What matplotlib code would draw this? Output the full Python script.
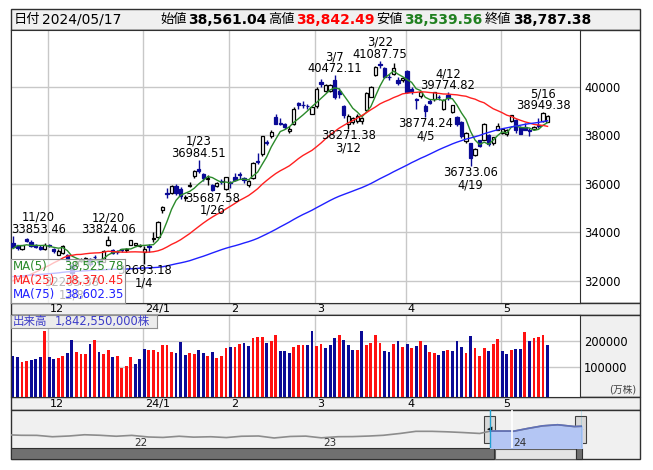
import numpy as np
import pandas as pd
import matplotlib
matplotlib.use('Agg')
import matplotlib.pyplot as plt
from matplotlib.patches import Rectangle

plt.rcParams['font.family'] = ['DejaVu Sans', 'Noto Sans CJK JP']

# ---------------------------------------------------------------
# data : Nikkei 225 daily candles 2023/11/20 - 2024/05/17
# ---------------------------------------------------------------
dates = ['2023-11-20', '2023-11-21', '2023-11-22', '2023-11-24', '2023-11-27', '2023-11-28',
         '2023-11-29', '2023-11-30', '2023-12-01', '2023-12-04', '2023-12-05', '2023-12-06',
         '2023-12-07', '2023-12-08', '2023-12-11', '2023-12-12', '2023-12-13', '2023-12-14',
         '2023-12-15', '2023-12-18', '2023-12-19', '2023-12-20', '2023-12-21', '2023-12-22',
         '2023-12-25', '2023-12-26', '2023-12-27', '2023-12-28', '2023-12-29', '2024-01-04',
         '2024-01-05', '2024-01-09', '2024-01-10', '2024-01-11', '2024-01-12', '2024-01-15',
         '2024-01-16', '2024-01-17', '2024-01-18', '2024-01-19', '2024-01-22', '2024-01-23',
         '2024-01-24', '2024-01-25', '2024-01-26', '2024-01-29', '2024-01-30', '2024-01-31',
         '2024-02-01', '2024-02-02', '2024-02-05', '2024-02-06', '2024-02-07', '2024-02-08',
         '2024-02-09', '2024-02-13', '2024-02-14', '2024-02-15', '2024-02-16', '2024-02-19',
         '2024-02-20', '2024-02-21', '2024-02-22', '2024-02-26', '2024-02-27', '2024-02-28',
         '2024-02-29', '2024-03-01', '2024-03-04', '2024-03-05', '2024-03-06', '2024-03-07',
         '2024-03-08', '2024-03-11', '2024-03-12', '2024-03-13', '2024-03-14', '2024-03-15',
         '2024-03-18', '2024-03-19', '2024-03-21', '2024-03-22', '2024-03-25', '2024-03-26',
         '2024-03-27', '2024-03-28', '2024-03-29', '2024-04-01', '2024-04-02', '2024-04-03',
         '2024-04-04', '2024-04-05', '2024-04-08', '2024-04-09', '2024-04-10', '2024-04-11',
         '2024-04-12', '2024-04-15', '2024-04-16', '2024-04-17', '2024-04-18', '2024-04-19',
         '2024-04-22', '2024-04-23', '2024-04-24', '2024-04-25', '2024-04-26', '2024-04-30',
         '2024-05-01', '2024-05-02', '2024-05-07', '2024-05-08', '2024-05-09', '2024-05-10',
         '2024-05-13', '2024-05-14', '2024-05-15', '2024-05-16', '2024-05-17']

opens = [33560, 33420, 33290, 33720, 33600, 33460, 33380, 33320, 33470, 33310, 33060, 33150,
         33060, 32650, 32600, 32830, 32790, 32900, 32990, 32860, 32780, 33480, 33280, 33200,
         33300, 33260, 33490, 33480, 33420, 33190, 33420, 33710, 33810, 34900, 35610, 35630,
         35900, 35780, 35400, 35910, 36320, 36590, 36400, 36180, 35950, 35900, 36130, 35800,
         36060, 36260, 36390, 36250, 35950, 36250, 36950, 37250, 37730, 37960, 38750, 38500,
         38470, 38170, 38450, 39320, 39260, 39220, 38900, 39200, 40200, 39840, 39830, 40300,
         39820, 39200, 38450, 38560, 38600, 38600, 39050, 39600, 40500, 40950, 40780, 40420,
         40520, 40300, 40300, 40646, 39900, 39500, 39620, 39200, 39400, 39480, 39600, 39100,
         39650, 38950, 38750, 38550, 37750, 37680, 37200, 37800, 37820, 38030, 37700, 38230,
         38080, 38050, 38580, 38650, 38330, 38350, 38200, 38260, 38410, 38590, 38561.04]
highs = [33853.46, 33480, 33480, 33760, 33680, 33520, 33480, 33550, 33520, 33340, 33290, 33480,
         33100, 32700, 32830, 32950, 32990, 32950, 33070, 32900, 33250, 33824.06, 33310, 33250,
         33320, 33340, 33690, 33560, 33500, 33420, 33510, 33990, 34480, 35100, 35840, 35960,
         36000, 35860, 35540, 36090, 36580, 36984.51, 36460, 36350, 36000, 36080, 36200, 36300,
         36120, 36440, 36470, 36300, 36160, 36900, 37290, 37980, 37800, 38200, 38865, 38700,
         38530, 38400, 39156, 39390, 39420, 39300, 39180, 39990, 40310, 40140, 40100, 40472.11,
         39950, 39260, 38880, 38750, 38880, 38760, 39790, 40050, 40850, 41087.75, 40830, 40520,
         40980, 40400, 40420, 40700, 40000, 39560, 39820, 39300, 39480, 39790, 39660, 39480,
         39774.82, 39260, 38800, 38600, 38120, 37700, 37480, 37820, 38500, 38050, 37950, 38500,
         38300, 38280, 38860, 38680, 38370, 38490, 38300, 38400, 38700, 38949.38, 38842.49]
lows = [33340, 33260, 33250, 33580, 33400, 33350, 33250, 33280, 33380, 33150, 33040, 33120,
        32800, 32205.38, 32580, 32750, 32760, 32620, 32880, 32600, 32750, 33440, 33090, 33100,
        33200, 33180, 33470, 33440, 33400, 32693.18, 33200, 33600, 33780, 34800, 35420, 35580,
        35550, 35380, 35300, 35880, 36250, 36450, 36110, 35960, 35687.58, 35880, 35990, 35760,
        35830, 36100, 36200, 36050, 35860, 36200, 36830, 37160, 37600, 37890, 38450, 38420,
        38260, 38100, 38440, 39100, 39130, 39100, 38880, 39120, 40010, 39800, 39790, 39500,
        39550, 38700, 38271.38, 38450, 38500, 38470, 39000, 39580, 40450, 40800, 40350, 40290,
        40480, 40060, 40200, 39760, 39700, 39100, 39550, 38774.24, 39280, 39420, 39450, 39050,
        39450, 38920, 38370, 37900, 37700, 36733.06, 37150, 37500, 37800, 37550, 37600, 38200,
        38050, 37980, 38560, 38100, 38040, 38200, 37960, 38200, 38300, 38550, 38539.56]
closes = [33388.03, 33354.14, 33451.83, 33625.53, 33447.67, 33408.39, 33321.22, 33486.89,
          33431.51, 33231.27, 33231.41, 33445.90, 32858.31, 32307.86, 32791.80, 32843.04,
          32926.35, 32686.25, 32970.55, 32758.98, 33219.39, 33675.94, 33140.47, 33169.05,
          33254.03, 33305.85, 33681.24, 33539.62, 33464.17, 33288.29, 33377.42, 33763.18,
          34441.72, 35049.86, 35577.11, 35901.79, 35619.18, 35477.75, 35466.17, 35963.27,
          36546.95, 36517.57, 36226.48, 36236.47, 35751.07, 36026.94, 36065.86, 36286.71,
          36011.46, 36158.02, 36354.16, 36160.66, 36119.92, 36863.28, 36897.42, 37963.97,
          37703.32, 38157.94, 38487.24, 38470.38, 38363.61, 38262.16, 39098.68, 39233.71,
          39239.52, 39208.03, 39166.19, 39910.82, 40109.23, 40097.63, 40090.78, 39598.71,
          39688.94, 38820.49, 38797.51, 38695.97, 38807.38, 38707.64, 39740.44, 40003.60,
          40815.66, 40888.43, 40414.12, 40398.03, 40762.73, 40168.07, 40369.44, 39803.09,
          39838.91, 39451.85, 39773.13, 38992.08, 39347.04, 39773.14, 39581.81, 39442.63,
          39523.55, 39232.80, 38471.20, 37961.80, 38079.70, 37068.35, 37438.61, 37552.16,
          38460.08, 37628.48, 37934.76, 38405.66, 38274.05, 38236.07, 38835.10, 38202.37,
          38073.98, 38229.11, 38179.46, 38356.06, 38385.73, 38920.26, 38787.38]
# volume (万株)
volume = [142000, 138000, 119000, 123000, 128000, 132000, 138000, 240000, 138000, 132000,
          135000, 141000, 154000, 204000, 158000, 150000, 150000, 188000, 204000, 158000,
          150000, 167000, 138000, 143000, 96000, 104000, 140000, 112000, 131000, 169000,
          167000, 167000, 158000, 185000, 185000, 158000, 154000, 196000, 146000, 154000,
          150000, 164000, 154000, 142000, 158000, 136000, 142000, 173000, 176000, 178000,
          188000, 192000, 181000, 212000, 215000, 215000, 192000, 200000, 223000, 162000,
          162000, 155000, 178000, 185000, 185000, 185000, 240000, 181000, 188000, 173000,
          185000, 212000, 223000, 204000, 185000, 165000, 165000, 240000, 185000, 192000,
          223000, 192000, 162000, 158000, 188000, 200000, 177000, 188000, 173000, 181000,
          200000, 185000, 158000, 154000, 146000, 162000, 165000, 162000, 200000, 177000,
          154000, 219000, 173000, 142000, 173000, 162000, 188000, 208000, 162000, 150000,
          165000, 169000, 169000, 235000, 200000, 212000, 215000, 223000, 184255]

# closes before the window (2023/08/01 - 2023/11/17), only used for the moving averages
hist_closes = [33476, 32707, 32159, 32192, 32254, 32377, 32204, 32473, 32059, 32238, 31766,
               31626, 31450, 31565, 31856, 32010, 32287, 31624, 32169, 32226, 32333, 32619,
               32710, 32939, 33036, 32991, 32991, 32606, 32467, 32776, 32706, 33168, 33533,
               33242, 33023, 32571, 32402, 32678, 32315, 32371, 31872, 31857,
               31759, 31237, 30526, 31075, 30994, 31746, 31936, 32494, 32315, 31659, 32040,
               32042, 31430, 31259, 30999, 31062, 31269, 30601, 30991, 30696, 30858,
               31601, 31949, 32708, 32271, 32166, 32646, 32568, 32585, 32695, 33519, 33424,
               33585.20]

ma_names = ['MA(5)', 'MA(25)', 'MA(75)']
ma_spans = [5, 25, 75]
ma_last = ['38,525.78', '38,370.45', '38,602.35']
ma_colors = ['#2a8a2a', '#ff2020', '#2020ff']

# labelled highs / lows
marks = [('2023-11-20', 'high'), ('2023-12-20', 'high'), ('2023-12-08', 'low'),
         ('2024-01-04', 'low'), ('2024-01-23', 'high'), ('2024-01-26', 'low'),
         ('2024-03-07', 'high'), ('2024-03-12', 'low'), ('2024-03-22', 'high'),
         ('2024-04-05', 'low'), ('2024-04-12', 'high'), ('2024-04-19', 'low'),
         ('2024-05-16', 'high')]

# navigator : month-end closes
nav_dates = ['2021-05-07', '2021-05-31', '2021-06-30', '2021-07-30', '2021-08-31', '2021-09-30',
             '2021-10-29', '2021-11-30', '2021-12-30', '2022-01-31', '2022-02-28', '2022-03-31',
             '2022-04-28', '2022-05-31', '2022-06-30', '2022-07-29', '2022-08-31', '2022-09-30',
             '2022-10-31', '2022-11-30', '2022-12-30', '2023-01-31', '2023-02-28', '2023-03-31',
             '2023-04-28', '2023-05-31', '2023-06-30', '2023-07-31', '2023-08-31', '2023-09-29',
             '2023-10-31', '2023-11-20', '2023-11-30', '2023-12-29', '2024-01-04', '2024-01-31',
             '2024-02-29', '2024-03-29', '2024-04-30', '2024-05-17']
nav_close = [29357, 28860, 28792, 27284, 28090, 29453, 28893, 27822, 28792, 27002, 26527, 27821,
             26848, 27280, 26393, 27802, 28092, 25937, 27587, 27969, 26095, 27327, 27446, 28041,
             28856, 30888, 33189, 33172, 32619, 31858, 30859, 33388, 33487, 33464, 33288, 36287,
             39166, 40369, 38406, 38787]

# ---------------------------------------------------------------
W, H = 653, 470
DAY = 4.53      # px per trading day
X0 = 13.0       # px of first candle
PX_LEFT, PX_PLOT_R, PX_RIGHT = 10.5, 580.0, 640.0


def rect(x0, y0, x1, y1):
    return [x0 / W, 1 - y1 / H, (x1 - x0) / W, (y1 - y0) / H]


def idx_at(px):
    return (px - X0) / DAY


n = len(closes)
xi = np.arange(n)
d = pd.to_datetime(pd.Series(dates))
o = np.array(opens, float)
h = np.array(highs, float)
l = np.array(lows, float)
c = np.array(closes, float)

all_close = pd.Series(hist_closes + closes)
mas = [all_close.rolling(s).mean().values[-n:] for s in ma_spans]

# month boundaries
m_idx = [i for i in range(1, n) if d[i].month != d[i - 1].month]
m_lab = [(f'{d[i].year % 100}/1' if d[i].month == 1 else str(d[i].month)) for i in m_idx]
m_pos = [i - 0.3 for i in m_idx]

fig = plt.figure(figsize=(W / 100, H / 100), dpi=100)
fig.patch.set_facecolor('white')

# background / frames in pixel coords
bg = fig.add_axes([0, 0, 1, 1])
bg.set_xlim(0, W)
bg.set_ylim(H, 0)
bg.axis('off')
frame_col = '#303030'
panels = [(PX_LEFT, 9, PX_RIGHT, 29.5, '#f0f0f0'),
          (PX_LEFT, 29.5, PX_RIGHT, 302.5, 'white'),
          (PX_LEFT, 302.5, PX_RIGHT, 315, '#f0f0f0'),
          (PX_LEFT, 315, PX_RIGHT, 397, '#f0f0f0'),
          (PX_LEFT, 397, PX_RIGHT, 410, '#f0f0f0'),
          (PX_LEFT, 410, PX_RIGHT, 459, '#f0f0f0')]
for x0_, y0_, x1_, y1_, fc in panels:
    bg.add_patch(Rectangle((x0_, y0_), x1_ - x0_, y1_ - y0_, facecolor=fc,
                           edgecolor=frame_col, lw=1))

# header
hdr_y = 19.5
bg.text(14, hdr_y, '日付', fontsize=9.5, va='center')
bg.text(42, hdr_y, '2024/05/17', fontsize=10, va='center')
hdr_items = [(160, '始値', 188, '38,561.04', 'black'),
             (268, '高値', 296, '38,842.49', '#ff0000'),
             (376, '安値', 404, '38,539.56', '#208020'),
             (485, '終値', 513, '38,787.38', 'black')]
for xl, lab, xv, val, col in hdr_items:
    bg.text(xl, hdr_y, lab, fontsize=9.5, va='center')
    bg.text(xv, hdr_y, val, fontsize=10, fontweight='bold', color=col, va='center')

# ---------------------------------------------------------------
# price panel
# ---------------------------------------------------------------
ax = fig.add_axes(rect(PX_LEFT, 29.5, PX_PLOT_R, 302.5))
ax.set_xlim(idx_at(PX_LEFT), idx_at(PX_PLOT_R))
ax.set_ylim(31098, 42370)
ax.set_facecolor('white')
grid_col = '#c8c8c8'
price_ticks = list(range(32000, 40001, 2000))
for yv in price_ticks:
    ax.axhline(yv, color=grid_col, lw=1, zorder=0)
for mp in m_pos:
    ax.axvline(mp, color=grid_col, lw=1, zorder=0)

up = c >= o
navy = '#0a0a96'
wick_cols = np.where(up, 'black', navy)
ax.vlines(xi, l, h, colors=wick_cols, lw=1, zorder=2)
body_lo = np.minimum(o, c)
body_hi = np.maximum(o, c)
ax.bar(xi[up], (body_hi - body_lo)[up], bottom=body_lo[up], width=0.72,
       facecolor='white', edgecolor='black', lw=0.9, zorder=3)
ax.bar(xi[~up], (body_hi - body_lo)[~up], bottom=body_lo[~up], width=0.72,
       facecolor=navy, edgecolor=navy, lw=0.9, zorder=3)

for ma, col in zip(mas, ma_colors):
    ax.plot(xi, ma, color=col, lw=1, zorder=4)

ax.yaxis.tick_right()
ax.set_yticks(price_ticks)
ax.set_yticklabels([str(v) for v in price_ticks], fontsize=8.3)
ax.tick_params(axis='y', length=0, pad=3)
ax.set_xticks([])
for s in ax.spines.values():
    s.set_color(frame_col)

# high / low labels
date_str = list(d.dt.strftime('%Y-%m-%d'))
fig.canvas.draw()
for ds, kind in marks:
    i = date_str.index(ds)
    dt = d[i]
    lab_d = f'{dt.month}/{dt.day}'
    val = h[i] if kind == 'high' else l[i]
    xpix = ax.transData.transform((i, val))[0] / fig.dpi * 100
    shift = max(0.0, PX_LEFT + 28 - xpix)
    if kind == 'high':
        ax.annotate(f'{val:.2f}', (i, val), xytext=(shift, 6.5), textcoords='offset pixels',
                    ha='center', va='center', fontsize=8.3, zorder=6)
        ax.annotate(lab_d, (i, val), xytext=(shift, 18.8), textcoords='offset pixels',
                    ha='center', va='center', fontsize=8.3, zorder=6)
    else:
        ax.annotate(f'{val:.2f}', (i, val), xytext=(shift, -6.7), textcoords='offset pixels',
                    ha='center', va='center', fontsize=8.3, zorder=6)
        ax.annotate(lab_d, (i, val), xytext=(shift, -19), textcoords='offset pixels',
                    ha='center', va='center', fontsize=8.3, zorder=6)

# moving average legend box
lg = fig.add_axes(rect(PX_LEFT, 259, 125, 302.5))
lg.set_xlim(0, 1)
lg.set_ylim(1, 0)
lg.set_xticks([])
lg.set_yticks([])
lg.patch.set_facecolor('white')
lg.patch.set_alpha(0.72)
for s in lg.spines.values():
    s.set_color('#909090')
for k, (nm, val, col) in enumerate(zip(ma_names, ma_last, ma_colors)):
    yy = 0.18 + 0.315 * k
    lg.text(0.02, yy, nm, color=col, fontsize=8.5, va='center')
    lg.text(0.985, yy, val, color=col, fontsize=8.5, va='center', ha='right')

# date strips
for y0_, y1_ in [(302.5, 315), (397, 410)]:
    ds_ax = fig.add_axes(rect(PX_LEFT, y0_, PX_RIGHT, y1_))
    ds_ax.set_xlim(idx_at(PX_LEFT), idx_at(PX_RIGHT))
    ds_ax.set_ylim(0, 1)
    ds_ax.axis('off')
    for mp, ml in zip(m_pos, m_lab):
        ds_ax.text(mp + 0.45, 0.45, ml, fontsize=8, ha='left', va='center')

# ---------------------------------------------------------------
# volume panel
# ---------------------------------------------------------------
vax = fig.add_axes(rect(PX_LEFT, 315, PX_PLOT_R, 397))
vlo, vhi = -15385, 300000
vax.set_xlim(idx_at(PX_LEFT), idx_at(PX_PLOT_R))
vax.set_ylim(vlo, vhi)
vax.set_facecolor('white')
for yv in [100000, 200000]:
    vax.axhline(yv, color=grid_col, lw=1, zorder=0)
for mp in m_pos:
    vax.axvline(mp, color=grid_col, lw=1, zorder=0)
prev = np.concatenate([[hist_closes[-1]], c[:-1]])
vcols = np.where(c > prev, '#ff1010', '#0a0a96')
vv = np.array(volume, float)
vax.bar(xi, vv - vlo, bottom=vlo, width=0.62, color=vcols, zorder=2)
vax.yaxis.tick_right()
vax.set_yticks([100000, 200000])
vax.set_yticklabels(['100000', '200000'], fontsize=8.3)
vax.tick_params(axis='y', length=0, pad=3)
vax.set_xticks([])
for s in vax.spines.values():
    s.set_color(frame_col)
bg.text(636, 390, '(万株)', fontsize=7, ha='right', va='center', color='#404040')

vb = fig.add_axes(rect(PX_LEFT, 315, 157, 328))
vb.set_xticks([])
vb.set_yticks([])
vb.patch.set_facecolor('#ececec')
for s in vb.spines.values():
    s.set_color('#909090')
vb.text(0.015, 0.5, '出来高', transform=vb.transAxes, fontsize=8.3, color='#3c3cc8',
        va='center')
vb.text(0.30, 0.5, '1,842,550,000株', transform=vb.transAxes, fontsize=8.3,
        color='#3c3cc8', va='center')

# ---------------------------------------------------------------
# navigator
# ---------------------------------------------------------------
nd = pd.to_datetime(pd.Series(nav_dates))
nx = (nd.dt.year + (nd.dt.dayofyear - 1) / 365.25).values
ny = np.array(nav_close, float)
nav = fig.add_axes(rect(PX_LEFT, 410, 581.6, 448))
nav.set_xlim(2021.354, 2024.367)
nav.set_ylim(15000, 56450)
nav.set_facecolor('white')
nav.axis('off')
nav.plot(nx, ny, color='#8c8c8c', lw=1.2)
win_start = d[0].year + (d[0].dayofyear - 1) / 365.25
sel = nx >= win_start
nav.fill_between(nx[sel], ny[sel], 15000, color='#b4c6f4', zorder=1)
nav.plot(nx[sel], ny[sel], color='#6070b8', lw=1.2, zorder=2)
nav.axvline(2024.0, color='white', lw=1.2, zorder=2)
for yr in [2022, 2023, 2024]:
    nav.text(yr + 0.005, 20500, str(yr % 100), fontsize=7.5, ha='left', va='center',
             color='#303030')
nav.axvline(win_start, color='#20a0d0', lw=1)
nav.axvline(2024.367, color='#20a0d0', lw=1)

# scroll bar
bg.add_patch(Rectangle((PX_LEFT, 448), 494 - PX_LEFT, 11, facecolor='#707070',
                       edgecolor='#303030', lw=0.8))
bg.add_patch(Rectangle((495, 448.5), 81, 10, facecolor='#e4e4e4', edgecolor='#606060', lw=0.8))
bg.add_patch(Rectangle((576, 448), 5.6, 11, facecolor='#707070', edgecolor='#303030', lw=0.8))
# handles
for hx, tri in [(484, '◀'), (575, '▶')]:
    bg.add_patch(Rectangle((hx, 416), 11, 27, facecolor='#d8d8d8', edgecolor='#404040', lw=0.8))
    bg.text(hx + 5.5, 429.5, tri, fontsize=5, ha='center', va='center')

fig.savefig('out.png', dpi=100)
